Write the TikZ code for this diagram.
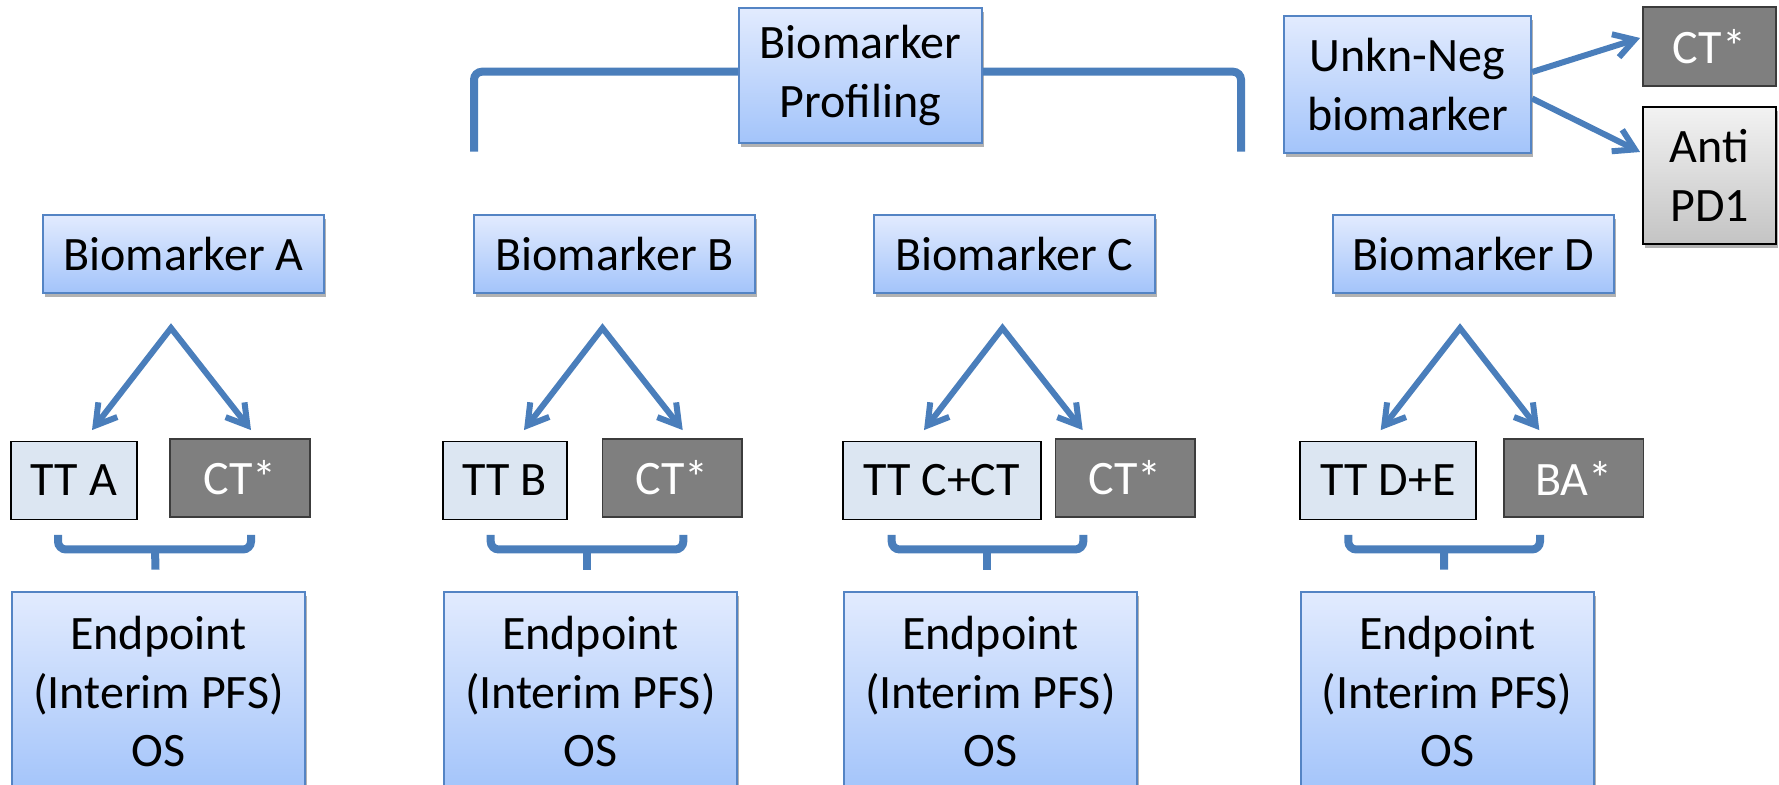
\documentclass[tikz,border=0pt]{standalone}
\usepackage{fontspec}
\setmainfont{Carlito}
\usetikzlibrary{arrows.meta,shadows,calc}
\definecolor{bluetop}{RGB}{226,235,254}
\definecolor{bluebot}{RGB}{163,196,250}
\definecolor{boxline}{RGB}{84,132,196}
\definecolor{arrowblue}{RGB}{74,126,187}
\definecolor{ttfill}{RGB}{220,230,242}
\definecolor{ctfill}{RGB}{127,127,127}
\definecolor{ctline}{RGB}{60,60,60}
\definecolor{greytop}{RGB}{242,242,242}
\definecolor{greybot}{RGB}{196,196,196}
\begin{document}
\begin{tikzpicture}[x=0.5pt,y=-0.5pt,
  txt/.style={font=\fontsize{24}{29.2}\selectfont, align=center, inner sep=0pt},
  shad/.style={drop shadow={shadow xshift=1.2pt, shadow yshift=-2.2pt, opacity=0.3, fill=black}},
  bluebox/.style={txt, shad, draw=boxline, line width=1.1pt, top color=bluetop, bottom color=bluebot},
  ttbox/.style={txt, draw=black, line width=0.9pt, fill=ttfill, minimum height=39pt},
  ctbox/.style={txt, draw=ctline, line width=0.9pt, fill=ctfill, text=white},
  greybox/.style={txt, shad, draw=black, line width=0.9pt, top color=greytop, bottom color=greybot},
  biobox/.style={bluebox, minimum width=140.5pt, minimum height=39pt},
  epbox/.style={bluebox, minimum width=146.5pt, minimum height=100.15pt},
  darkbox/.style={ctbox, minimum width=69.75pt, minimum height=38.7pt},
  varr/.style={draw=arrowblue, line width=3pt, line join=miter,
    {Straight Barb[length=10pt,width=12pt]}-{Straight Barb[length=10pt,width=12pt]}},
  arr/.style={draw=arrowblue, line width=3pt, -{Straight Barb[length=10pt,width=12pt]}},
  brace/.style={draw=arrowblue, line width=4pt, rounded corners=4pt},
  tick/.style={draw=arrowblue, line width=4pt}
]
\useasboundingbox (0,0) rectangle (1779,785);
\clip (0,0) rectangle (1779,785);

% top
\node[bluebox, minimum width=121.5pt, minimum height=67.5pt] (prof) at (860.5,75.5) {Biomarker\\Profiling};
\draw[brace] (474,151.7) -- (474,71.7) -- (prof.west |- 0,71.7);
\draw[brace] (prof.east |- 0,71.7) -- (1241,71.7) -- (1241,151.7);

\node[bluebox, minimum width=123.5pt, minimum height=68.5pt] (unk) at (1407.5,84.5) {Unkn-Neg\\biomarker};
\node[ctbox, minimum width=66.5pt, minimum height=39.5pt] (cttop) at (1709.5,46.5) {CT*};
\node[greybox, minimum width=66.5pt, minimum height=68.5pt] (anti) at (1709.5,175.5) {Anti\\PD1};
\draw[arr] ([shift={(0,-12.5)}]unk.east) -- ([shift={(-2,-8.5)}]cttop.west);
\draw[arr] ([shift={(0,14)}]unk.east) -- ([shift={(-2,-23.5)}]anti.west);

% biomarker row
\node[biobox] (bioA) at (183.5,254) {Biomarker A};
\node[biobox] (bioB) at (614.5,254) {Biomarker B};
\node[biobox] (bioC) at (1014.5,254) {Biomarker C};
\node[biobox] (bioD) at (1473.5,254) {Biomarker D};

% treatment row
\node[ttbox, minimum width=63pt] (ttA) at (74,480.5) {TT A};
\node[ttbox, minimum width=62pt] (ttB) at (504.7,480.5) {TT B};
\node[ttbox, minimum width=99pt] (ttC) at (941.7,480.5) {TT C+CT};
\node[ttbox, minimum width=88pt] (ttD) at (1388,480.5) {TT D+E};
\node[darkbox] (ctA) at (240,478) {CT*};
\node[darkbox] (ctB) at (672.3,478) {CT*};
\node[darkbox] (ctC) at (1125.3,478) {CT*};
\node[darkbox] (baD) at (1573.7,478) {BA*};

% endpoints
\node[epbox] (epA) at (158.5,691.85) {Endpoint\\(Interim PFS)\\OS};
\node[epbox] (epB) at (590.3,691.85) {Endpoint\\(Interim PFS)\\OS};
\node[epbox] (epC) at (990.3,691.85) {Endpoint\\(Interim PFS)\\OS};
\node[epbox] (epD) at (1447.2,691.85) {Endpoint\\(Interim PFS)\\OS};

% split arrows
\coordinate (apA) at ([shift={(-12.5,34)}]bioA.south);
\coordinate (apB) at ([shift={(-12,34)}]bioB.south);
\coordinate (apC) at ([shift={(-12,34)}]bioC.south);
\coordinate (apD) at ([shift={(-13.5,34)}]bioD.south);
\draw[varr] ([shift={(18,-10.5)}]ttA.north) -- (apA) -- ([shift={(11,-8.3)}]ctA.north);
\draw[varr] ([shift={(19.3,-10.5)}]ttB.north) -- (apB) -- ([shift={(10.4,-8.3)}]ctB.north);
\draw[varr] ([shift={(-17.7,-10.5)}]ttC.north) -- (apC) -- ([shift={(-42.6,-8.3)}]ctC.north);
\draw[varr] ([shift={(-7.3,-10.5)}]ttD.north) -- (apD) -- ([shift={(-34.4,-8.3)}]baD.north);

% braces
\draw[brace] (58,535) -- (58,549.5) -- (251,549.5) -- (251,535);
\draw[tick] (155,548) -- ([shift={(-3,-21)}]epA.north);
\draw[brace] (490.7,535) -- (490.7,549.5) -- (683.3,549.5) -- (683.3,535);
\draw[tick] (587.3,548) -- ([shift={(-3,-21)}]epB.north);
\draw[brace] (891.7,535) -- (891.7,549.5) -- (1083.3,549.5) -- (1083.3,535);
\draw[tick] (987.3,548) -- ([shift={(-3,-21)}]epC.north);
\draw[brace] (1348.3,535) -- (1348.3,549.5) -- (1540,549.5) -- (1540,535);
\draw[tick] (1444,548) -- ([shift={(-3,-21)}]epD.north);
\end{tikzpicture}
\end{document}
